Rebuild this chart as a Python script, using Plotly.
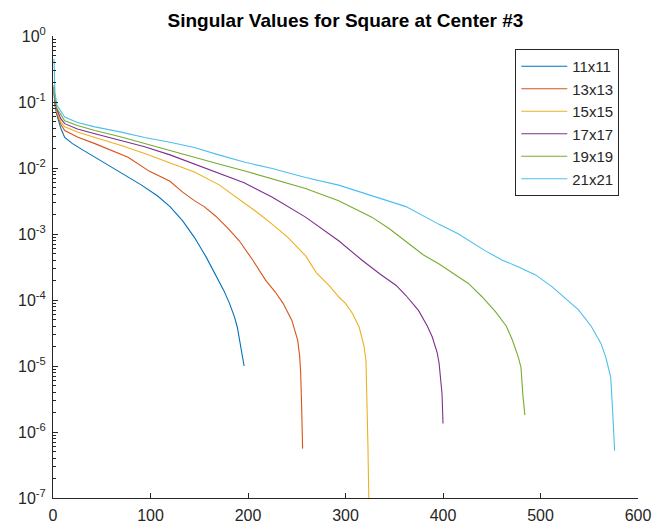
import plotly.graph_objects as go

# ---- data (index of singular value, value) ----
labels = ["11x11", "13x13", "15x15", "17x17", "19x19", "21x21"]
colors = ["#0072BD", "#D95319", "#EDB120", "#7E2F8E", "#77AC30", "#4DBEEE"]

x_11 = [1, 2, 4, 8, 12, 20, 30, 43, 60, 77, 90, 107, 120, 133, 145, 157, 167, 175, 181, 186, 189, 192, 194, 196]
y_11 = [0.14, 0.089, 0.063, 0.040, 0.029, 0.0234, 0.019, 0.0145, 0.0102, 0.0072, 0.0056, 0.0038, 0.0026,
        0.00158, 0.00089, 0.00045, 0.00024, 0.000141, 8.9e-5, 5.6e-5, 3.9e-5, 2.2e-5, 1.4e-5, 1.0e-5]

x_13 = [1, 2, 4, 8, 12, 25, 43, 60, 77, 99, 120, 133, 145, 155, 167, 180, 191, 205, 218, 228, 236, 245,
        251, 253, 254, 255, 256]
y_13 = [0.15, 0.095, 0.068, 0.046, 0.037, 0.0295, 0.0234, 0.0186, 0.0145, 0.0089, 0.0063, 0.0043, 0.0032,
        0.0026, 0.00186, 0.0012, 0.00079, 0.0004, 0.0002, 0.000132, 8.9e-5, 4.9e-5, 2.45e-5, 1.4e-5,
        7.9e-6, 2.5e-6, 5.6e-7]

x_15 = [1, 2, 4, 8, 12, 25, 43, 70, 94, 120, 145, 170, 191, 210, 225, 240, 259, 270, 283, 293, 300, 307,
        314, 319, 321, 322, 323, 324]
y_15 = [0.16, 0.10, 0.072, 0.050, 0.042, 0.035, 0.029, 0.022, 0.0166, 0.012, 0.0087, 0.0056, 0.0034,
        0.0021, 0.0014, 0.00091, 0.00047, 0.00026, 0.000166, 0.000112, 8.9e-5, 6.3e-5, 3.9e-5, 2.0e-5,
        1.2e-5, 4.0e-6, 6.3e-7, 8.0e-8]

x_17 = [1, 2, 4, 8, 12, 25, 43, 70, 94, 120, 145, 170, 196, 225, 259, 293, 317, 335, 352, 362, 375, 384,
        389, 394, 396, 399, 400]
y_17 = [0.17, 0.105, 0.077, 0.056, 0.047, 0.039, 0.033, 0.026, 0.021, 0.0158, 0.0115, 0.0085, 0.0060,
        0.0036, 0.0018, 0.00079, 0.0004, 0.00025, 0.000166, 0.000117, 6.9e-5, 4.0e-5, 2.75e-5, 1.6e-5,
        1.1e-5, 3.8e-6, 1.35e-6]

x_19 = [1, 2, 4, 8, 12, 25, 43, 70, 94, 120, 145, 170, 196, 225, 259, 293, 327, 345, 362, 380, 396, 416,
        426, 440, 454, 465, 471, 477, 480, 482, 484]
y_19 = [0.18, 0.11, 0.080, 0.063, 0.052, 0.044, 0.037, 0.0295, 0.0234, 0.0186, 0.0145, 0.0115, 0.0091,
        0.0069, 0.0049, 0.0032, 0.0018, 0.0012, 0.00076, 0.00048, 0.00035, 0.000224, 0.000178, 0.000112,
        6.6e-5, 4.0e-5, 2.5e-5, 1.4e-5, 9.5e-6, 3.5e-6, 1.8e-6]

x_21 = [1, 2, 4, 8, 12, 25, 43, 70, 94, 120, 145, 170, 196, 225, 259, 293, 327, 362, 396, 416, 443, 461,
        477, 495, 512, 527, 539, 552, 562, 567, 572, 574, 576]
y_21 = [0.45, 0.14, 0.090, 0.071, 0.059, 0.049, 0.042, 0.035, 0.029, 0.0245, 0.0204, 0.0158, 0.0123,
        0.0098, 0.0072, 0.0055, 0.0038, 0.0026, 0.0014, 0.0010, 0.00056, 0.0004, 0.00032, 0.00024,
        0.000158, 0.0001, 7.1e-5, 4.0e-5, 2.2e-5, 1.35e-5, 6.8e-6, 2.1e-6, 5.2e-7]

xs = [x_11, x_13, x_15, x_17, x_19, x_21]
ys = [y_11, y_13, y_15, y_17, y_19, y_21]

x_ticks = [0, 100, 200, 300, 400, 500, 600]
y_exps = [0, -1, -2, -3, -4, -5, -6, -7]

fig = go.Figure()
for lab, col, xv, yv in zip(labels, colors, xs, ys):
    fig.add_trace(go.Scatter(x=xv, y=yv, mode="lines", name=lab,
                             line=dict(color=col, width=1.1)))

axis_col = "#262626"
fig.update_layout(
    width=656, height=531,
    margin=dict(l=53, r=18, t=36, b=33),
    paper_bgcolor="white", plot_bgcolor="white",
    font=dict(family="Liberation Sans, Arial, sans-serif", size=16, color=axis_col),
    title=dict(text="<b>Singular Values for Square at Center #3</b>",
               x=0.5266, xanchor="center", y=0.962, yanchor="middle",
               font=dict(size=19, color="black")),
    showlegend=True,
    legend=dict(x=0.968, xanchor="right", y=0.972, yanchor="top",
                bordercolor=axis_col, borderwidth=1, bgcolor="white",
                font=dict(size=15, color=axis_col), itemwidth=46,
                tracegroupgap=0),
)
fig.update_xaxes(range=[0, 600], tickvals=x_ticks, ticks="inside", ticklen=5,
                 tickfont=dict(size=16), ticklabelstandoff=3, automargin=False,
                 showline=True, linecolor=axis_col, linewidth=1, tickcolor=axis_col,
                 showgrid=False, zeroline=False, mirror=False)
fig.update_yaxes(type="log", range=[-7, 0],
                 tickvals=[10.0 ** e for e in y_exps],
                 ticktext=["10<sup>%d</sup>" % e for e in y_exps],
                 ticks="inside", ticklen=5, tickfont=dict(size=16), ticklabelstandoff=3,
                 automargin=False,
                 minor=dict(ticks="inside", ticklen=3, dtick="D1", tickcolor=axis_col, showgrid=False),
                 showline=True, linecolor=axis_col, linewidth=1, tickcolor=axis_col,
                 showgrid=False, zeroline=False, mirror=False)

fig.write_html("out.html")
